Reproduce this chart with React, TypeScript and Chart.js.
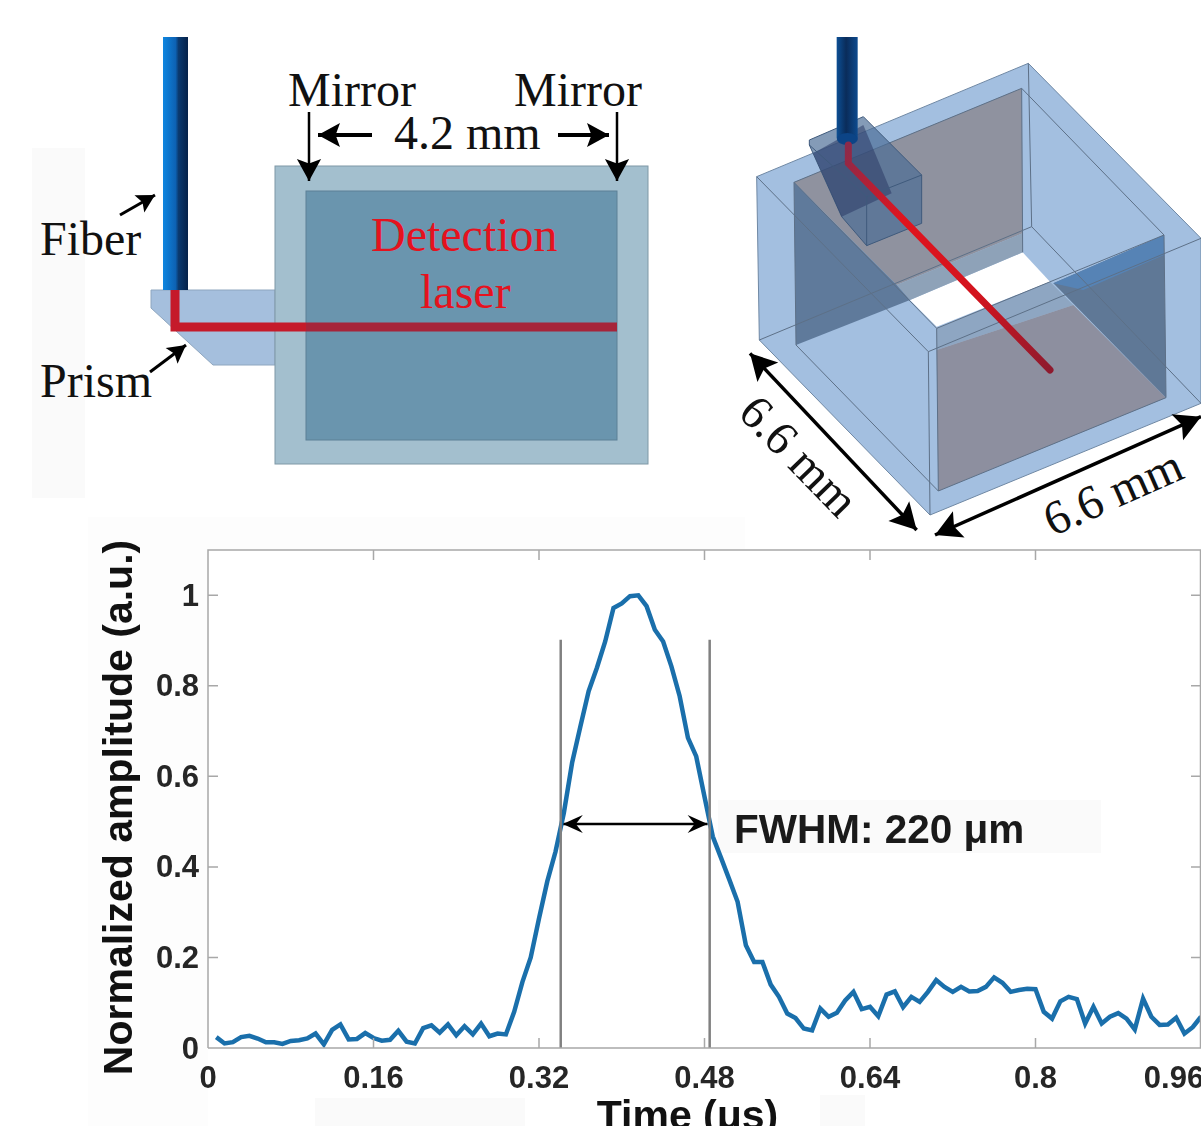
import React, { useEffect, useRef } from "react";
import { Chart, registerables } from "chart.js";

Chart.register(...registerables);

const timeUs = [
  0.008, 0.016, 0.024, 0.032, 0.04, 0.048, 0.056, 0.064, 0.072, 0.08,
  0.088, 0.096, 0.104, 0.112, 0.12, 0.128, 0.136, 0.144, 0.152, 0.16,
  0.168, 0.176, 0.184, 0.192, 0.2, 0.208, 0.216, 0.224, 0.232, 0.24,
  0.248, 0.256, 0.264, 0.272, 0.28, 0.288, 0.296, 0.304, 0.312, 0.32,
  0.328, 0.336, 0.344, 0.352, 0.36, 0.368, 0.376, 0.384, 0.392, 0.4,
  0.408, 0.416, 0.424, 0.432, 0.44, 0.448, 0.456, 0.464, 0.472, 0.48,
  0.488, 0.496, 0.504, 0.512, 0.52, 0.528, 0.536, 0.544, 0.552, 0.56,
  0.568, 0.576, 0.584, 0.592, 0.6, 0.608, 0.616, 0.624, 0.632, 0.64,
  0.648, 0.656, 0.664, 0.672, 0.68, 0.688, 0.696, 0.704, 0.712, 0.72,
  0.728, 0.736, 0.744, 0.752, 0.76, 0.768, 0.776, 0.784, 0.792, 0.8,
  0.808, 0.816, 0.824, 0.832, 0.84, 0.848, 0.856, 0.864, 0.872, 0.88,
  0.888, 0.896, 0.904, 0.912, 0.92, 0.928, 0.936, 0.944, 0.952, 0.96,
];
const amplitude = [
  0.024, 0.01, 0.013, 0.024, 0.027, 0.021, 0.0125, 0.0125, 0.009, 0.0155,
  0.017, 0.021, 0.032, 0.008, 0.04, 0.052, 0.019, 0.02, 0.033, 0.022,
  0.016, 0.018, 0.038, 0.014, 0.01, 0.044, 0.05, 0.034, 0.052, 0.028,
  0.048, 0.03, 0.054, 0.026, 0.032, 0.03, 0.08, 0.146, 0.2, 0.286,
  0.368, 0.434, 0.519, 0.63, 0.71, 0.788, 0.84, 0.898, 0.972, 0.982,
  0.998, 1.0, 0.976, 0.924, 0.898, 0.843, 0.777, 0.685, 0.644, 0.555,
  0.467, 0.42, 0.372, 0.323, 0.227, 0.19, 0.19, 0.14, 0.113, 0.076,
  0.066, 0.043, 0.039, 0.087, 0.069, 0.078, 0.105, 0.124, 0.086, 0.091,
  0.07, 0.118, 0.125, 0.09, 0.113, 0.102, 0.124, 0.15, 0.135, 0.124,
  0.135, 0.125, 0.126, 0.135, 0.156, 0.144, 0.124, 0.128, 0.131, 0.13,
  0.08, 0.065, 0.103, 0.113, 0.108, 0.054, 0.091, 0.054, 0.069, 0.077,
  0.065, 0.041, 0.109, 0.069, 0.051, 0.052, 0.067, 0.032, 0.046, 0.069,
];
const xTickValues = [0, 0.16, 0.32, 0.48, 0.64, 0.8, 0.96];
const xTickLabels = ["0", "0.16", "0.32", "0.48", "0.64", "0.8", ""];
const lastXLabel = "0.96";
const yTickValues = [0, 0.2, 0.4, 0.6, 0.8, 1];
const yTickLabels = ["0", "0.2", "0.4", "0.6", "0.8", "1"];
const fwhmLeftX = [0.341, 0.341];
const fwhmRightX = [0.485, 0.485];
const fwhmMarkerY = [0, 0.902];
const fwhmArrowX = [0.343, 0.483];
const fwhmArrowY = [0.495, 0.495];
const fwhmText = "FWHM: 220 μm";
const xTitle = "Time (μs)";
const yTitle = "Normalized amplitude (a.u.)";

const SANS = '"Liberation Sans", Arial, sans-serif';
const SERIF = '"Liberation Serif", "Times New Roman", serif';

const framePlugin = {
  id: "frame",
  afterDatasetsDraw(chart: any) {
    const { ctx, chartArea: a, scales } = chart;
    const x = scales.x;
    const y = scales.y;
    ctx.save();
    ctx.strokeStyle = "#a8a8a8";
    ctx.lineWidth = 1.5;
    ctx.beginPath();
    ctx.moveTo(a.left, a.bottom);
    ctx.lineTo(a.left, a.top);
    ctx.lineTo(a.right, a.top);
    ctx.moveTo(a.left, a.bottom);
    ctx.lineTo(a.right, a.bottom);
    ctx.moveTo(a.right - 0.5, a.top);
    ctx.lineTo(a.right - 0.5, a.bottom);
    xTickValues.forEach((v) => {
      const px = x.getPixelForValue(v);
      ctx.moveTo(px, a.bottom);
      ctx.lineTo(px, a.bottom - 10);
      ctx.moveTo(px, a.top);
      ctx.lineTo(px, a.top + 10);
    });
    yTickValues.forEach((v) => {
      const py = y.getPixelForValue(v);
      ctx.moveTo(a.left, py);
      ctx.lineTo(a.left + 10, py);
      ctx.moveTo(a.right, py);
      ctx.lineTo(a.right - 10, py);
    });
    ctx.stroke();

    // arrow heads of the FWHM marker
    const ay = y.getPixelForValue(fwhmArrowY[0]);
    const x0 = x.getPixelForValue(fwhmArrowX[0]);
    const x1 = x.getPixelForValue(fwhmArrowX[1]);
    ctx.fillStyle = "#000";
    [
      [x0, 1],
      [x1, -1],
    ].forEach(([px, d]) => {
      ctx.beginPath();
      ctx.moveTo(px, ay);
      ctx.lineTo(px + d * 20, ay - 9);
      ctx.lineTo(px + d * 13, ay);
      ctx.lineTo(px + d * 20, ay + 9);
      ctx.closePath();
      ctx.fill();
    });

    // last tick label sits inside the picture
    ctx.fillStyle = "#262626";
    ctx.font = `bold 31px ${SANS}`;
    ctx.textAlign = "center";
    ctx.textBaseline = "middle";
    ctx.fillText(lastXLabel, 1174, 1079);

    // annotation
    ctx.fillStyle = "#1a1a1a";
    ctx.font = `bold 40.5px ${SANS}`;
    ctx.textAlign = "left";
    ctx.textBaseline = "alphabetic";
    ctx.fillText(fwhmText, 734, 843);

    // axis titles, off-centre as in the picture
    ctx.fillStyle = "#111";
    ctx.font = `bold 41px ${SANS}`;
    ctx.textAlign = "center";
    ctx.fillText(xTitle, 687.5, 1129);
    ctx.translate(132, 807.5);
    ctx.rotate(-Math.PI / 2);
    ctx.fillText(yTitle, 0, 0);
    ctx.restore();
  },
};

// converts a position of the 3D sketch into page pixels
const q = (pts: number[][]) =>
  pts.map(([a, b]) => `${720 + a / 3},${20 + b / 3}`).join(" ");
const qx = (a: number) => 720 + a / 3;
const qy = (b: number) => 20 + b / 3;

function Arrow({ x1, y1, x2, y2, w = 2.5, head = 14, both = false }: any) {
  const ang = Math.atan2(y2 - y1, x2 - x1);
  const h = (x: number, y: number, t: number) => {
    const c = Math.cos(t);
    const s = Math.sin(t);
    const hw = head * 0.55;
    return `${x},${y} ${x - head * c - hw * s},${y - head * s + hw * c} ${x - head * c * 0.8},${y - head * s * 0.8} ${x - head * c + hw * s},${y - head * s - hw * c}`;
  };
  return (
    <g>
      <line x1={x1} y1={y1} x2={x2} y2={y2} stroke="#000" strokeWidth={w} />
      <polygon points={h(x2, y2, ang)} fill="#000" />
      {both && <polygon points={h(x1, y1, ang + Math.PI)} fill="#000" />}
    </g>
  );
}

function Sketch() {
  const serif = { fontFamily: SERIF, fontSize: 48, fill: "#111" };
  return (
    <svg
      width={1201}
      height={1126}
      style={{ position: "absolute", left: 0, top: 0 }}
    >
      <defs>
        <linearGradient id="fib" x1="0" x2="1" y1="0" y2="0">
          <stop offset="0" stopColor="#0f86e0" />
          <stop offset="0.5" stopColor="#0d62b4" />
          <stop offset="0.62" stopColor="#0b3a70" />
          <stop offset="1" stopColor="#06224a" />
        </linearGradient>
        <linearGradient id="fib3" x1="0" x2="1" y1="0" y2="0">
          <stop offset="0" stopColor="#0c4f94" />
          <stop offset="0.45" stopColor="#0a2c5a" />
          <stop offset="1" stopColor="#0d4a8e" />
        </linearGradient>
        <linearGradient id="beam" x1="0" x2="1" y1="0" y2="1">
          <stop offset="0" stopColor="#8c2a4a" />
          <stop offset="0.3" stopColor="#e0141e" />
          <stop offset="0.65" stopColor="#d3141e" />
          <stop offset="1" stopColor="#8e1a2e" />
        </linearGradient>
      </defs>

      {/* faint scan patches */}
      <rect x={32} y={148} width={53} height={350} fill="#fafafa" />
      <rect x={88} y={517} width={120} height={609} fill="#fdfdfd" />
      <rect x={208} y={517} width={537} height={33} fill="#fdfdfd" />
      <rect x={718} y={800} width={383} height={53} fill="#fafafa" />
      <rect x={315} y={1098} width={210} height={28} fill="#fafafa" />
      <rect x={820} y={1095} width={45} height={31} fill="#fafafa" />

      {/* side view */}
      <polygon
        points="151,290 275,290 275,365 213,365 151,308"
        fill="#a5bfdd"
        stroke="#8ea6bf"
      />
      <rect x={163} y={37} width={25} height={253} fill="url(#fib)" />
      <rect x={275} y={166} width={373} height={298} fill="#a3bfce" stroke="#7f98a6" />
      <rect x={306} y={191} width={311} height={249} fill="#6a95ae" stroke="#5d8096" />
      <polyline
        points="175,290 175,327 306,327"
        fill="none"
        stroke="#c51a2a"
        strokeWidth={9}
      />
      <line x1={306} y1={327} x2={617} y2={327} stroke="#a6243a" strokeWidth={9} />
      <text x={371} y={251} {...serif} fill="#e5121e">Detection</text>
      <text x={420} y={308} {...serif} fill="#e5121e">laser</text>
      <text x={288} y={106} {...serif}>Mirror</text>
      <text x={514} y={106} {...serif}>Mirror</text>
      <text x={394} y={149} {...serif}>4.2 mm</text>
      <text x={40} y={255} {...serif}>Fiber</text>
      <text x={40} y={397} {...serif}>Prism</text>
      <Arrow x1={309} y1={112} x2={309} y2={181} head={22} w={2.5} />
      <Arrow x1={617} y1={112} x2={617} y2={181} head={22} w={2.5} />
      <Arrow x1={372} y1={135} x2={318} y2={135} head={22} w={4} />
      <Arrow x1={558} y1={135} x2={609} y2={135} head={22} w={4} />
      <Arrow x1={120} y1={215} x2={155} y2={195} head={18} w={3} />
      <Arrow x1={150} y1={372} x2={186} y2={345} head={18} w={3} />

      {/* 3D view */}
      <polygon
        points={q([[110, 470], [925, 130], [1443, 655], [1443, 1150], [630, 1485], [118, 960]])}
        fill="#a3bfe0"
        stroke="#6f88a4"
        strokeWidth={1}
      />
      <polygon
        points={q([[570, 840], [908, 697], [990, 785], [650, 920]])}
        fill="#ffffff"
      />
      <polygon
        points={q([[222, 487], [905, 205], [908, 640], [530, 795]])}
        fill="#8f929f"
      />
      <polygon
        points={q([[530, 795], [908, 640], [908, 697], [570, 840]])}
        fill="#8ea2b8"
      />
      <polygon
        points={q([[222, 487], [530, 795], [570, 840], [228, 975]])}
        fill="#5f7a9b"
      />
      <polygon
        points={q([[650, 925], [990, 785], [1060, 855], [650, 990]])}
        fill="#8ea6c2"
      />
      <polygon
        points={q([[650, 990], [1060, 855], [1338, 1133], [655, 1413]])}
        fill="#8d8f9f"
      />
      <polygon
        points={q([[1000, 790], [1332, 645], [1338, 1133]])}
        fill="#5f7896"
      />
      <polygon
        points={q([[1000, 790], [1332, 645], [1332, 705], [1090, 810]])}
        fill="#5683b5"
      />
      <g fill="none" stroke="#5d7087" strokeWidth={1}>
        <polyline points={q([[925, 130], [935, 620], [118, 960]])} />
        <line x1={qx(935)} y1={qy(620)} x2={qx(1443)} y2={qy(1150)} />
        <polyline points={q([[110, 470], [625, 995], [1443, 655]])} />
        <line x1={qx(625)} y1={qy(995)} x2={qx(630)} y2={qy(1485)} />
        <polygon points={q([[222, 487], [905, 205], [1332, 645], [650, 925]])} />
        <line x1={qx(905)} y1={qy(205)} x2={qx(908)} y2={qy(697)} />
        <line x1={qx(222)} y1={qy(487)} x2={qx(228)} y2={qy(975)} />
        <line x1={qx(228)} y1={qy(975)} x2={qx(655)} y2={qy(1413)} />
        <line x1={qx(650)} y1={qy(925)} x2={qx(655)} y2={qy(1413)} />
        <polyline points={q([[655, 1413], [1338, 1133], [1332, 645]])} />
      </g>
      {/* prism */}
      <polygon
        points={q([[268, 360], [430, 290], [605, 465], [605, 610], [440, 677], [365, 590], [268, 375]])}
        fill="#4a6c95"
        fillOpacity={0.68}
        stroke="#3f5a7c"
        strokeWidth={1}
      />
      <polygon
        points={q([[280, 400], [430, 315], [515, 520], [365, 590]])}
        fill="#2c3a66"
        fillOpacity={0.55}
      />
      <polyline
        points={q([[268, 375], [440, 530], [605, 465]])}
        fill="none"
        stroke="#3f5a7c"
        strokeWidth={1}
      />
      <line x1={qx(440)} y1={qy(530)} x2={qx(440)} y2={qy(677)} stroke="#3f5a7c" />
      <rect x={qx(350)} y={37} width={21} height={qy(355) - 37} fill="url(#fib3)" />
      <ellipse cx={qx(382)} cy={qy(357)} rx={10.5} ry={6} fill="#0c4486" />
      <polyline
        points={q([[385, 375], [385, 430], [990, 1050]])}
        fill="none"
        stroke="url(#beam)"
        strokeWidth={7}
        strokeLinecap="round"
      />
      <Arrow x1={qx(90)} y1={qy(1000)} x2={qx(590)} y2={qy(1530)} head={26} w={3.5} both />
      <Arrow x1={qx(645)} y1={qy(1545)} x2={qx(1443)} y2={qy(1190)} head={26} w={3.5} both />
      <text
        {...serif}
        textAnchor="middle"
        transform={`translate(${qx(235)} ${qy(1310)}) rotate(46) translate(0 15)`}
      >
        6.6 mm
      </text>
      <text
        {...serif}
        textAnchor="middle"
        transform={`translate(${qx(1180)} ${qy(1420)}) rotate(-24) translate(0 15)`}
      >
        6.6 mm
      </text>
    </svg>
  );
}

export default function App() {
  const ref = useRef<HTMLCanvasElement | null>(null);

  useEffect(() => {
    if (!ref.current) return;
    const chart = new Chart(ref.current, {
      type: "line",
      data: {
        datasets: [
          {
            label: "Marker left",
            data: fwhmLeftX.map((x, i) => ({ x, y: fwhmMarkerY[i] })),
            borderColor: "#808080",
            borderWidth: 2.5,
            pointRadius: 0,
          },
          {
            label: "Marker right",
            data: fwhmRightX.map((x, i) => ({ x, y: fwhmMarkerY[i] })),
            borderColor: "#808080",
            borderWidth: 2.5,
            pointRadius: 0,
          },
          {
            label: "Normalized amplitude",
            data: timeUs.map((x, i) => ({ x, y: amplitude[i] })),
            borderColor: "#1a6fab",
            borderWidth: 4.5,
            pointRadius: 0,
            tension: 0,
          },
          {
            label: "FWHM",
            data: fwhmArrowX.map((x, i) => ({ x, y: fwhmArrowY[i] })),
            borderColor: "#000",
            borderWidth: 2.5,
            pointRadius: 0,
          },
        ],
      },
      options: {
        animation: false,
        responsive: false,
        layout: { padding: { top: 550, left: 0, right: 0, bottom: 0 } },
        plugins: { legend: { display: false }, tooltip: { enabled: false } },
        scales: {
          x: {
            type: "linear",
            min: 0,
            max: 0.96,
            afterBuildTicks: (s: any) => {
              s.ticks = xTickValues.map((value) => ({ value }));
            },
            afterFit: (s: any) => {
              s.height = 78;
              s.paddingLeft = 0;
              s.paddingRight = 0;
            },
            grid: { display: false },
            border: { display: false },
            ticks: {
              autoSkip: false,
              maxRotation: 0,
              padding: 5,
              color: "#262626",
              font: { family: SANS, size: 31, weight: "bold" },
              callback: (_v: any, i: number) => xTickLabels[i],
            },
          },
          y: {
            type: "linear",
            min: 0,
            max: 1.1,
            afterBuildTicks: (s: any) => {
              s.ticks = yTickValues.map((value) => ({ value }));
            },
            afterFit: (s: any) => {
              s.width = 208;
            },
            grid: { display: false },
            border: { display: false },
            ticks: {
              padding: 1,
              labelOffset: 2,
              color: "#262626",
              font: { family: SANS, size: 31, weight: "bold" },
              callback: (_v: any, i: number) => yTickLabels[i],
            },
          },
        },
      },
      plugins: [framePlugin],
    } as any);
    return () => chart.destroy();
  }, []);

  return (
    <div
      style={{
        position: "absolute",
        left: 0,
        top: 0,
        width: 1201,
        height: 1126,
        overflow: "hidden",
        background: "#fff",
      }}
    >
      <Sketch />
      <canvas
        ref={ref}
        width={1201}
        height={1126}
        style={{ position: "absolute", left: 0, top: 0 }}
      />
    </div>
  );
}
